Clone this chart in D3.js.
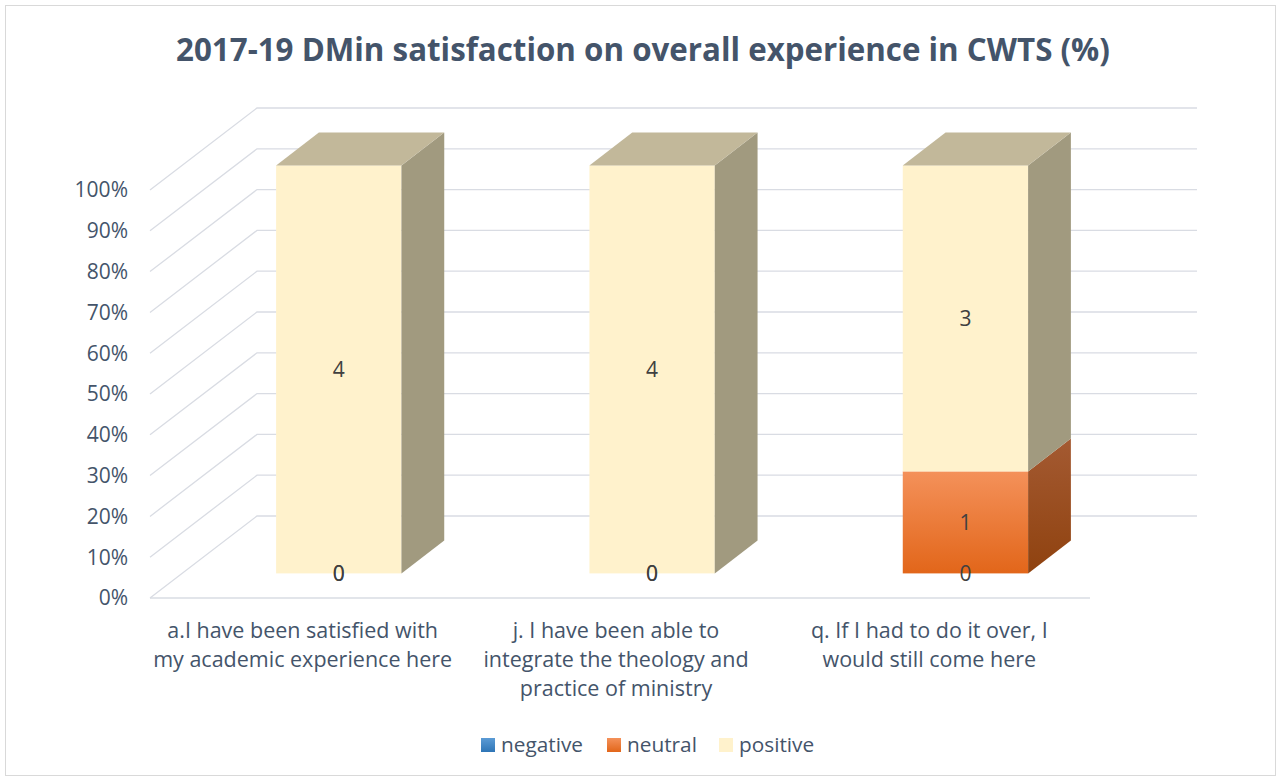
<!DOCTYPE html>
<html><head><meta charset="utf-8">
<script src="https://cdn.jsdelivr.net/npm/d3@7"></script>
<style>body{margin:0;background:#fff}svg{display:block}text{font-family:"Open Sans",sans-serif}</style>
</head><body><svg id="c" width="1281" height="781"></svg>
<script>
const categories = [
  ["a.I have been satisfied with","my academic experience here"],
  ["j. I have been able to","integrate the theology and","practice of ministry"],
  ["q. If I had to do it over, I","would still come here"]
];
const seriesNames = ["negative","neutral","positive"];
const negative = [0,0,0];
const neutral = [0,0,1];
const positive = [4,4,3];
const yTicks = [0,0.1,0.2,0.3,0.4,0.5,0.6,0.7,0.8,0.9,1.0];
const title = "2017-19 DMin satisfaction on overall experience in CWTS (%)";

const svg = d3.select("#c");
const txt = "#44546A";
svg.append("rect").attr("x",5.5).attr("y",5.5).attr("width",1270).attr("height",770)
  .attr("fill","#fff").attr("stroke","#D9D9D9").attr("stroke-width",1);

const defs = svg.append("defs");
function grad(id, c1, c2){
  const g = defs.append("linearGradient").attr("id",id).attr("x1",0).attr("y1",0).attr("x2",0).attr("y2",1);
  g.append("stop").attr("offset","0%").attr("stop-color",c1);
  g.append("stop").attr("offset","100%").attr("stop-color",c2);
}
grad("gNegF","#5B9BD5","#2E75B6");
grad("gNegS","#2F6596","#1F4E79");
grad("gNeuF","#F4915A","#E2661A");
grad("gNeuS","#A45A32","#8F420F");

const styles = {
  negative:{front:"url(#gNegF)", side:"url(#gNegS)", top:"#4A7FB0", legend:"url(#gNegF)"},
  neutral:{front:"url(#gNeuF)", side:"url(#gNeuS)", top:"#C0642E", legend:"url(#gNeuF)"},
  positive:{front:"#FFF2CC", side:"#A19A7F", top:"#C2B89A", legend:"#FFF2CC"}
};

const x0 = 150, x1 = 1090;
const DX = 107, DY = -82;
const x = d3.scaleBand().domain(d3.range(categories.length)).range([x0,x1]);
const y = d3.scaleLinear().domain([0,1]).range([598,190]);
const off = d => [DX*d, DY*d];

const grid = svg.append("g").attr("stroke","#D9DCE3").attr("stroke-width",1.3).attr("fill","none");
yTicks.forEach(t=>{
  const yy = y(t);
  grid.append("path").attr("d",`M${x0},${yy}L${x0+DX},${yy+DY}L${x1+DX},${yy+DY}`);
});
grid.append("line").attr("x1",x0).attr("x2",x1).attr("y1",y(0)).attr("y2",y(0));

svg.append("g").selectAll("text").data(yTicks).join("text")
  .attr("x",128).attr("y",t=>y(t)).attr("dy","0.35em").attr("text-anchor","end")
  .attr("font-size",21).attr("fill",txt).text(t=>Math.round(t*100)+"%");

const dF = 0.3, dB = 0.7;
const bw = x.bandwidth()*0.4;
const bars = svg.append("g");
const labels = [];
categories.forEach((c,i)=>{
  const vals = [negative[i], neutral[i], positive[i]];
  const total = d3.sum(vals);
  let cum = 0;
  const cx = x(i) + x.bandwidth()/2;
  const [fx,fy] = off(dF), [bx,by] = off(dB);
  const L = cx - bw/2 + fx, R = cx + bw/2 + fx;
  const dxs = bx-fx, dys = by-fy;
  const lastIdx = vals.reduce((a,v,k)=>v>0?k:a,-1);
  vals.forEach((v,k)=>{
    const s0 = cum/total, s1 = (cum+v)/total;
    cum += v;
    const st = styles[seriesNames[k]];
    const yb = y(s0)+fy, yt = y(s1)+fy;
    labels.push({x:cx+fx, y: v>0 ? (yb+yt)/2 : yb, v});
    if(v<=0) return;
    bars.append("rect").attr("x",L).attr("y",yt).attr("width",R-L).attr("height",yb-yt).attr("fill",st.front);
    bars.append("path").attr("d",`M${R},${yb}L${R+dxs},${yb+dys}L${R+dxs},${yt+dys}L${R},${yt}Z`).attr("fill",st.side);
    if(k===lastIdx){
      bars.append("path").attr("d",`M${L},${yt}L${L+dxs},${yt+dys}L${R+dxs},${yt+dys}L${R},${yt}Z`).attr("fill",st.top);
    }
  });
});
svg.append("g").selectAll("text").data(labels).join("text")
  .attr("x",d=>d.x).attr("y",d=>d.y).attr("dy","0.35em").attr("text-anchor","middle")
  .attr("font-size",21).attr("fill","#404040").text(d=>d.v);

const xl = svg.append("g");
categories.forEach((lines,i)=>{
  const cx = x(i)+x.bandwidth()/2 - 4;
  lines.forEach((ln,j)=>{
    xl.append("text").attr("x",cx).attr("y",630+j*29).attr("dy","0.35em").attr("text-anchor","middle")
      .attr("font-size",21.5).attr("fill",txt).text(ln);
  });
});

svg.append("text").attr("x",643).attr("y",50).attr("dy","0.35em").attr("text-anchor","middle")
  .attr("font-size",31.3).attr("font-weight","bold").attr("fill",txt).text(title);

const legX = [481,607,719];
const lg = svg.append("g");
seriesNames.forEach((n,k)=>{
  lg.append("rect").attr("x",legX[k]).attr("y",738).attr("width",14).attr("height",14).attr("fill",styles[n].legend);
  lg.append("text").attr("x",legX[k]+20).attr("y",745).attr("dy","0.35em").attr("font-size",20.8).attr("fill",txt).text(n);
});
</script></body></html>
